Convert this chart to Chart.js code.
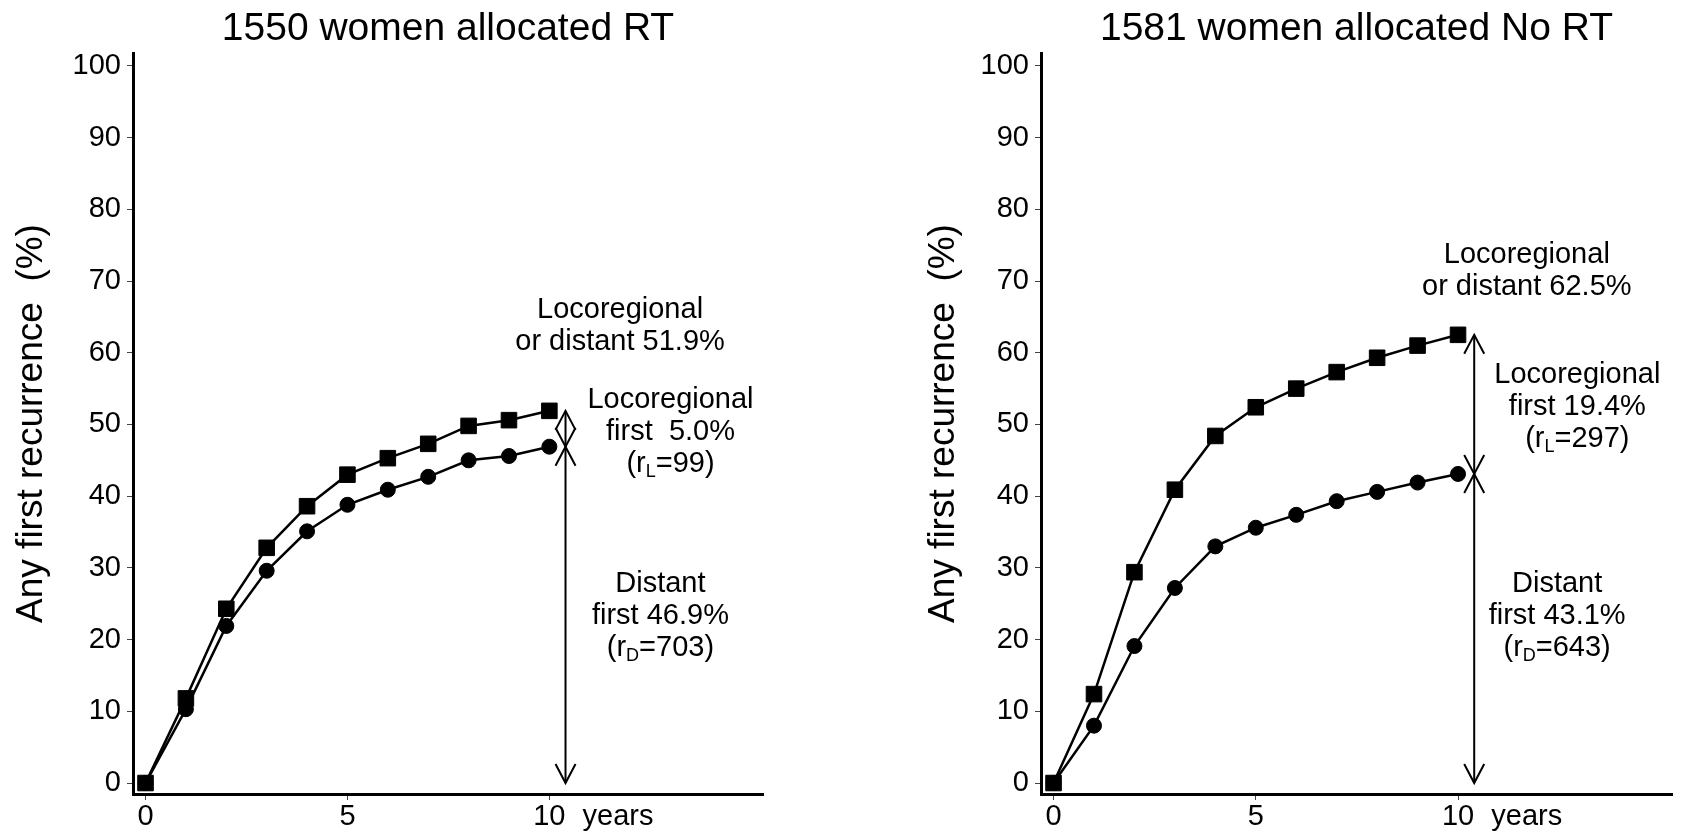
<!DOCTYPE html>
<html>
<head>
<meta charset="utf-8">
<script src="https://cdn.jsdelivr.net/npm/chart.js@4.4.1/dist/chart.umd.min.js"></script>
<style>
  html, body { margin: 0; padding: 0; background: #fff; }
  body { width: 1685px; height: 837px; position: relative; overflow: hidden; }
  .panel { position: absolute; top: 0; height: 837px; }
  #left { left: 0; width: 908px; }
  #right { left: 908px; width: 777px; }
</style>
</head>
<body>
<div class="panel" id="left"><canvas id="chartRT" width="908" height="837"></canvas></div>
<div class="panel" id="right"><canvas id="chartNoRT" width="777" height="837"></canvas></div>
<script>
// years since randomisation
const years = [0, 1, 2, 3, 4, 5, 6, 7, 8, 9, 10];

// RT arm: any first recurrence (squares) and distant first (circles), %
const rtAny     = [0, 11.8, 24.3, 32.8, 38.6, 43.0, 45.3, 47.3, 49.8, 50.6, 51.9];
const rtDistant = [0, 10.3, 21.9, 29.6, 35.1, 38.8, 40.9, 42.7, 45.0, 45.6, 46.9];

// No RT arm
const noRtAny     = [0, 12.4, 29.4, 40.9, 48.4, 52.4, 55.0, 57.3, 59.3, 61.0, 62.5];
const noRtDistant = [0, 8.0, 19.1, 27.2, 33.0, 35.6, 37.4, 39.3, 40.6, 41.9, 43.1];

const yTicks = [0, 10, 20, 30, 40, 50, 60, 70, 80, 90, 100];
const xTicks = [0, 5, 10];

// note texts
const rtNoteText = [
  ['Locoregional', 'or distant 51.9%'],
  ['Locoregional', 'first  5.0%', '(r_L=99)'],
  ['Distant', 'first 46.9%', '(r_D=703)']
];
const noRtNoteText = [
  ['Locoregional', 'or distant 62.5%'],
  ['Locoregional', 'first 19.4%', '(r_L=297)'],
  ['Distant', 'first 43.1%', '(r_D=643)']
];

// where the notes sit (data units, centre of first line)
const rtNoteAt   = [[11.75, 66.0], [13.0, 53.4], [12.75, 27.8]];
const noRtNoteAt = [[11.7, 73.6], [12.95, 56.9], [12.45, 27.8]];

const FONT = '"Liberation Sans", Arial, sans-serif';

const toPts = arr => years.map((t, i) => ({ x: t, y: arr[i] }));

// draw a line of text with _X subscripts, centred on cx
function drawRich(ctx, text, cx, cy, size) {
  const parts = [];
  let buf = '';
  for (let i = 0; i < text.length; i++) {
    if (text[i] === '_' && i + 1 < text.length) {
      if (buf) parts.push({ t: buf, sub: false });
      parts.push({ t: text[i + 1], sub: true });
      buf = '';
      i++;
    } else {
      buf += text[i];
    }
  }
  if (buf) parts.push({ t: buf, sub: false });

  const big = size + 'px ' + FONT;
  const small = Math.round(size * 0.62) + 'px ' + FONT;
  let total = 0;
  parts.forEach(p => {
    ctx.font = p.sub ? small : big;
    p.w = ctx.measureText(p.t).width;
    total += p.w;
  });
  let x = cx - total / 2;
  ctx.textAlign = 'left';
  ctx.textBaseline = 'middle';
  parts.forEach(p => {
    ctx.font = p.sub ? small : big;
    ctx.fillText(p.t, x, p.sub ? cy + size * 0.28 : cy);
    x += p.w;
  });
}

function arrowHead(ctx, px, py, dir) {
  // dir = 1 points down, -1 points up
  ctx.beginPath();
  ctx.moveTo(px - 10, py - dir * 19);
  ctx.lineTo(px, py);
  ctx.lineTo(px + 10, py - dir * 19);
  ctx.stroke();
}

const overlay = {
  id: 'overlay',
  afterDraw(chart, args, opts) {
    const { ctx, chartArea, scales } = chart;
    const x = scales.x, y = scales.y;
    ctx.save();
    ctx.fillStyle = '#000';
    ctx.strokeStyle = '#000';

    // panel title
    ctx.font = '39px ' + FONT;
    ctx.textAlign = 'center';
    ctx.textBaseline = 'alphabetic';
    ctx.fillText(opts.title, (chartArea.left + chartArea.right) / 2, 40);

    // "years" next to the last tick
    ctx.font = '29px ' + FONT;
    ctx.textBaseline = 'middle';
    ctx.fillText('years', x.getPixelForValue(11.7), chartArea.bottom + 23);

    // double arrows at year 10.4
    const ax = x.getPixelForValue(10.4);
    const lastDist = opts.distant[opts.distant.length - 1];
    const lastAny = opts.any[opts.any.length - 1];
    ctx.lineWidth = 2;
    [[0, lastDist], [lastDist, lastAny]].forEach(([lo, hi]) => {
      const pLo = y.getPixelForValue(lo);
      const pHi = y.getPixelForValue(hi);
      ctx.beginPath();
      ctx.moveTo(ax, pLo);
      ctx.lineTo(ax, pHi);
      ctx.stroke();
      arrowHead(ctx, ax, pLo, 1);
      arrowHead(ctx, ax, pHi, -1);
    });

    // notes
    opts.texts.forEach((lines, k) => {
      const cx = x.getPixelForValue(opts.at[k][0]);
      const cy = y.getPixelForValue(opts.at[k][1]);
      lines.forEach((ln, i) => drawRich(ctx, ln, cx, cy + i * 32, 29));
    });
    ctx.restore();
  }
};

function makeChart(id, title, any, distant, texts, at, padRight, yTitlePad) {
  return new Chart(document.getElementById(id), {
    type: 'line',
    data: {
      datasets: [
        {
          data: toPts(any),
          borderColor: '#000',
          backgroundColor: '#000',
          borderWidth: 2.5,
          pointStyle: 'rect',
          pointRadius: 11,
          pointBorderWidth: 1,
          tension: 0
        },
        {
          data: toPts(distant),
          borderColor: '#000',
          backgroundColor: '#000',
          borderWidth: 2.5,
          pointStyle: 'circle',
          pointRadius: 7.5,
          pointBorderWidth: 1,
          tension: 0
        }
      ]
    },
    options: {
      responsive: false,
      animation: false,
      events: [],
      layout: { padding: { top: 53, right: padRight, bottom: 0, left: 0 } },
      plugins: {
        legend: { display: false },
        tooltip: { enabled: false },
        title: { display: false },
        overlay: { title: title, any: any, distant: distant, texts: texts, at: at }
      },
      scales: {
        x: {
          type: 'linear',
          min: -0.31,
          max: 15.29,
          afterBuildTicks: s => { s.ticks = xTicks.map(v => ({ value: v })); },
          afterFit: s => { s.height = 43; },
          ticks: { color: '#000', font: { size: 29, family: FONT }, padding: 0, maxRotation: 0, autoSkip: false },
          grid: { display: true, drawOnChartArea: false, drawTicks: true, tickLength: 6, color: '#444', lineWidth: 1 },
          border: { display: true, color: '#000', width: 3 }
        },
        y: {
          type: 'linear',
          min: -1.53,
          max: 101.8,
          afterBuildTicks: s => { s.ticks = yTicks.map(v => ({ value: v })); },
          afterFit: s => { s.width = 133; },
          ticks: { color: '#000', font: { size: 29, family: FONT }, padding: 6, autoSkip: false },
          grid: { display: true, drawOnChartArea: false, drawTicks: true, tickLength: 6, color: '#444', lineWidth: 1 },
          border: { display: true, color: '#000', width: 3 },
          title: {
            display: true,
            text: 'Any first recurrence  (%)',
            color: '#000',
            font: { size: 37, family: FONT },
            padding: { top: yTitlePad, bottom: 0 }
          }
        }
      }
    },
    plugins: [overlay]
  });
}

makeChart('chartRT', '1550 women allocated RT', rtAny, rtDistant, rtNoteText, rtNoteAt, 145, 10);
makeChart('chartNoRT', '1581 women allocated No RT', noRtAny, noRtDistant, noRtNoteText, noRtNoteAt, 13, 14);
</script>
</body>
</html>
